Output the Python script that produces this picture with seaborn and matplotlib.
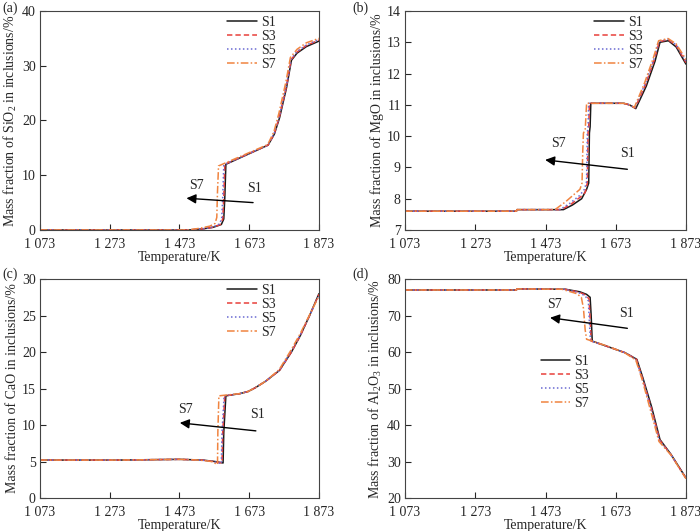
import numpy as np
import pandas as pd
import matplotlib
matplotlib.use("Agg")
import matplotlib.pyplot as plt
import seaborn as sns

SERIES = ["S1", "S3", "S5", "S7"]
COLORS = {"S1": "#1a1a1a", "S3": "#e8403a", "S5": "#6a6ad2", "S7": "#f08440"}
STYLES = {"S1": "-", "S3": (0, (3.5, 2)), "S5": (0, (1, 1.6)), "S7": (0, (5, 1.5, 1, 1.5))}

X_TICKS = [1073, 1273, 1473, 1673, 1873]
X_TICK_LABELS = ["1 073", "1 273", "1 473", "1 673", "1 873"]

# (a) SiO2
sio2_t = {
    "S1": [1073, 1500, 1540, 1570, 1593, 1600, 1603, 1606, 1727, 1745, 1760, 1780, 1794, 1810, 1837, 1873],
    "S3": [1073, 1500, 1540, 1570, 1590, 1597, 1600, 1603, 1727, 1745, 1760, 1780, 1793, 1810, 1837, 1873],
    "S5": [1073, 1500, 1538, 1568, 1588, 1594, 1597, 1600, 1727, 1745, 1760, 1780, 1793, 1810, 1837, 1873],
    "S7": [1073, 1495, 1530, 1560, 1575, 1580, 1582, 1585, 1726, 1744, 1758, 1778, 1791, 1810, 1837, 1873],
}
sio2_v = {
    "S1": [0, 0, 0.2, 0.5, 1.0, 2.0, 6, 12.0, 15.5, 17.5, 20.5, 26.0, 31.0, 32.3, 33.5, 34.5],
    "S3": [0, 0, 0.2, 0.5, 1.0, 2.0, 6, 12.0, 15.5, 17.6, 20.8, 26.3, 31.1, 32.5, 33.7, 34.7],
    "S5": [0, 0, 0.2, 0.5, 1.1, 2.1, 6, 11.9, 15.5, 17.7, 21.0, 26.5, 31.2, 32.6, 33.8, 34.8],
    "S7": [0, 0, 0.3, 0.7, 1.2, 2.3, 7, 11.7, 15.6, 18.0, 21.3, 27.0, 31.5, 33.0, 34.2, 35.0],
}

# (b) MgO
mgo_t = {
    "S1": [1073, 1390, 1392, 1524, 1550, 1576, 1590, 1596, 1598, 1600, 1602, 1695, 1712, 1730, 1760, 1785, 1799, 1823, 1845, 1873],
    "S3": [1073, 1390, 1392, 1518, 1545, 1572, 1586, 1592, 1594, 1596, 1598, 1695, 1712, 1728, 1758, 1783, 1797, 1822, 1845, 1873],
    "S5": [1073, 1390, 1392, 1514, 1542, 1570, 1584, 1590, 1592, 1594, 1596, 1695, 1712, 1727, 1757, 1782, 1796, 1822, 1845, 1873],
    "S7": [1073, 1390, 1392, 1500, 1530, 1571, 1577, 1579, 1581, 1586, 1590, 1695, 1712, 1726, 1755, 1780, 1795, 1822, 1845, 1873],
}
mgo_v = {
    "S1": [7.6, 7.6, 7.65, 7.65, 7.8, 8.0, 8.3, 8.5, 10.1, 10.3, 11.05, 11.05, 11.0, 10.88, 11.6, 12.4, 13.0, 13.05, 12.85, 12.3],
    "S3": [7.6, 7.6, 7.65, 7.65, 7.82, 8.05, 8.2, 8.5, 10.1, 10.3, 11.05, 11.05, 11.0, 10.9, 11.65, 12.45, 13.02, 13.08, 12.9, 12.35],
    "S5": [7.6, 7.6, 7.65, 7.65, 7.85, 8.1, 8.3, 8.55, 10.1, 10.3, 11.05, 11.05, 11.0, 10.9, 11.68, 12.48, 13.03, 13.1, 12.92, 12.4],
    "S7": [7.6, 7.6, 7.65, 7.65, 7.9, 8.3, 8.5, 9.5, 10.1, 10.2, 11.05, 11.05, 11.0, 10.92, 11.7, 12.5, 13.05, 13.12, 12.95, 12.45],
}

# (c) CaO
cao_t = {
    "S1": [1073, 1300, 1473, 1540, 1575, 1598, 1600, 1606, 1646, 1670, 1690, 1720, 1760, 1794, 1820, 1846, 1873],
    "S3": [1073, 1300, 1473, 1538, 1572, 1595, 1597, 1603, 1646, 1670, 1690, 1720, 1760, 1794, 1820, 1846, 1873],
    "S5": [1073, 1300, 1473, 1536, 1570, 1593, 1595, 1601, 1646, 1670, 1690, 1720, 1760, 1793, 1820, 1846, 1873],
    "S7": [1073, 1300, 1473, 1530, 1565, 1582, 1583, 1586, 1646, 1670, 1690, 1720, 1759, 1792, 1819, 1846, 1873],
}
cao_v = {
    "S1": [5.2, 5.2, 5.3, 5.2, 5.0, 4.8, 9.0, 14.0, 14.3, 14.6, 15.1, 16.0, 17.5, 20.0, 22.3, 25.0, 28.0],
    "S3": [5.2, 5.2, 5.3, 5.2, 5.0, 4.8, 9.0, 14.0, 14.3, 14.6, 15.1, 16.0, 17.5, 20.0, 22.3, 25.0, 27.9],
    "S5": [5.2, 5.2, 5.3, 5.2, 5.0, 4.7, 9.0, 14.0, 14.3, 14.6, 15.1, 16.0, 17.5, 20.1, 22.4, 25.0, 27.8],
    "S7": [5.2, 5.2, 5.3, 5.2, 5.0, 4.6, 9.0, 14.0, 14.3, 14.6, 15.1, 16.0, 17.6, 20.2, 22.5, 25.1, 27.7],
}

# (d) Al2O3
al2o3_t = {
    "S1": [1073, 1390, 1392, 1530, 1571, 1590, 1600, 1603, 1606, 1650, 1700, 1733, 1750, 1775, 1799, 1830, 1873],
    "S3": [1073, 1390, 1392, 1528, 1569, 1588, 1597, 1600, 1603, 1650, 1700, 1732, 1749, 1774, 1798, 1830, 1873],
    "S5": [1073, 1390, 1392, 1526, 1567, 1586, 1595, 1598, 1601, 1650, 1700, 1731, 1749, 1773, 1797, 1830, 1873],
    "S7": [1073, 1390, 1392, 1520, 1562, 1575, 1581, 1586, 1590, 1650, 1700, 1730, 1748, 1772, 1796, 1830, 1873],
}
al2o3_v = {
    "S1": [77.0, 77.0, 77.3, 77.2, 76.5, 75.8, 75.0, 70.0, 63.0, 61.5, 59.8, 58.0, 53.0, 45.0, 36.0, 32.0, 25.5],
    "S3": [77.0, 77.0, 77.3, 77.2, 76.4, 75.6, 74.5, 69.0, 63.0, 61.5, 59.8, 58.0, 52.8, 44.7, 35.9, 31.9, 25.4],
    "S5": [77.0, 77.0, 77.3, 77.2, 76.3, 75.4, 74.0, 68.0, 63.1, 61.5, 59.8, 57.9, 52.7, 44.5, 35.8, 31.9, 25.4],
    "S7": [77.0, 77.0, 77.3, 77.2, 76.0, 75.0, 72.0, 66.0, 63.5, 61.6, 59.7, 57.8, 52.5, 44.0, 35.5, 31.8, 25.3],
}

PANELS = [
    {"tag": "(a)", "t": sio2_t, "v": sio2_v, "ylim": (0, 40), "yticks": [0, 10, 20, 30, 40],
     "ylabel": "Mass fraction of SiO$_2$ in inclusions/%",
     "pos": [0.0571, 0.5669, 0.3986, 0.4124], "leg": (0.667, 0.985),
     "arrow": ((1684, 5.0), (1493, 5.8)), "s7": (1500, 7.0), "s1": (1668, 6.4)},
    {"tag": "(b)", "t": mgo_t, "v": mgo_v, "ylim": (7, 14), "yticks": list(range(7, 15)),
     "ylabel": "Mass fraction of MgO in inclusions/%",
     "pos": [0.5786, 0.5669, 0.4014, 0.4124], "leg": (0.669, 0.985),
     "arrow": ((1706, 8.94), (1472, 9.24)), "s7": (1490, 9.55), "s1": (1685, 9.25)},
    {"tag": "(c)", "t": cao_t, "v": cao_v, "ylim": (0, 30), "yticks": [0, 5, 10, 15, 20, 25, 30],
     "ylabel": "Mass fraction of CaO in inclusions/%",
     "pos": [0.0571, 0.0621, 0.3986, 0.4124], "leg": (0.667, 0.985),
     "arrow": ((1692, 9.2), (1474, 10.3)), "s7": (1470, 11.2), "s1": (1675, 10.6)},
    {"tag": "(d)", "t": al2o3_t, "v": al2o3_v, "ylim": (20, 80), "yticks": [20, 30, 40, 50, 60, 70, 80],
     "ylabel": "Mass fraction of Al$_2$O$_3$ in inclusions/%",
     "pos": [0.5786, 0.0621, 0.4014, 0.4124], "leg": (0.48, 0.66),
     "arrow": ((1706, 66.5), (1486, 69.4)), "s7": (1478, 71.3), "s1": (1682, 68.9)},
]


def draw_panel(fig, panel):
    ax = fig.add_axes(panel["pos"])
    for name in SERIES:
        df = pd.DataFrame({"T": panel["t"][name], "w": panel["v"][name]})
        sns.lineplot(data=df, x="T", y="w", ax=ax, color=COLORS[name],
                     linestyle=STYLES[name], linewidth=1.1, label=name,
                     estimator=None, sort=False)
    ax.set_xlim(1073, 1873)
    ax.set_ylim(*panel["ylim"])
    ax.set_xticks(X_TICKS)
    ax.set_xticklabels(X_TICK_LABELS)
    ax.set_yticks(panel["yticks"])
    ax.set_xlabel("Temperature/K", labelpad=0)
    ax.set_ylabel(panel["ylabel"], labelpad=2)
    ax.tick_params(direction="in", length=4, width=0.8)
    ax.tick_params(axis="x", pad=6)
    ax.tick_params(axis="y", pad=3)
    for sp in ax.spines.values():
        sp.set_color("#444444")
        sp.set_linewidth(0.8)
    ax.legend(loc="upper left", bbox_to_anchor=panel["leg"], frameon=False,
              handlelength=2.1, handletextpad=0.3, labelspacing=0.08,
              borderpad=0.1, borderaxespad=0)
    (x0, y0), (x1, y1) = panel["arrow"]
    ax.annotate("", xy=(x1, y1), xytext=(x0, y0),
                arrowprops=dict(arrowstyle="-|>", color="black", lw=1.0,
                                mutation_scale=14, shrinkA=0, shrinkB=0))
    ax.text(*panel["s7"], "S7", ha="left", va="bottom", fontsize=10)
    ax.text(*panel["s1"], "S1", ha="left", va="bottom", fontsize=10)
    return ax


def main():
    sns.set_style("ticks")
    plt.rcParams["font.family"] = ["Liberation Serif", "DejaVu Serif"]
    plt.rcParams["mathtext.fontset"] = "custom"
    plt.rcParams["mathtext.rm"] = "Liberation Serif"
    plt.rcParams["mathtext.it"] = "Liberation Serif:italic"
    plt.rcParams["mathtext.default"] = "regular"
    plt.rcParams["font.size"] = 10
    plt.rcParams["axes.labelsize"] = 10
    plt.rcParams["xtick.labelsize"] = 10
    plt.rcParams["ytick.labelsize"] = 10
    plt.rcParams["legend.fontsize"] = 10

    fig = plt.figure(figsize=(7, 5.31), dpi=100)
    for panel in PANELS:
        draw_panel(fig, panel)
    fig.text(0.003, 0.998, "(a)", ha="left", va="top", fontsize=10)
    fig.text(0.503, 0.998, "(b)", ha="left", va="top", fontsize=10)
    fig.text(0.003, 0.497, "(c)", ha="left", va="top", fontsize=10)
    fig.text(0.503, 0.497, "(d)", ha="left", va="top", fontsize=10)
    fig.savefig("out.png", dpi=100)


if __name__ == "__main__":
    main()
